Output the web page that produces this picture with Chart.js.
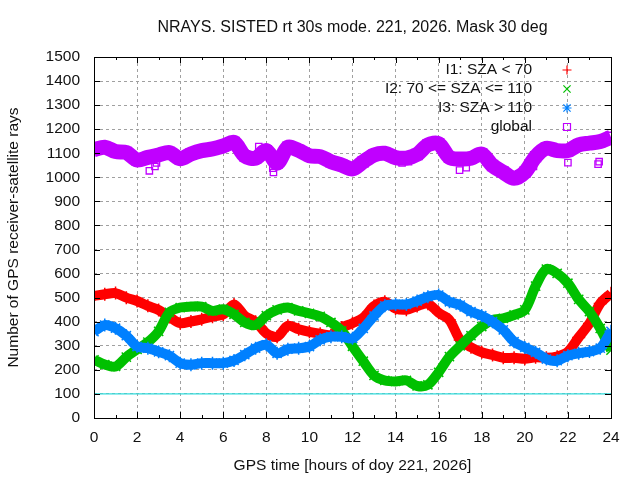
<!DOCTYPE html>
<html>
<head>
<meta charset="utf-8">
<script src="https://cdn.jsdelivr.net/npm/chart.js"></script>
<style>
html,body{margin:0;padding:0;background:#fff;}
#wrap{width:640px;height:480px;}
</style>
</head>
<body>
<div id="wrap"><canvas id="c" width="640" height="480"></canvas></div>
<script>
const chartTitle = "NRAYS. SISTED rt 30s mode. 221, 2026. Mask 30 deg";
const xTitle = "GPS time [hours of doy 221, 2026]";
const yTitle = "Number of GPS receiver-satellite rays";
const seriesLabels = ["I1: SZA < 70", "I2: 70 <= SZA <= 110", "I3: SZA > 110", "global"];

const hours = [0,0.5,1,1.5,2,2.5,3,3.5,4,4.5,5,5.5,6,6.5,7,7.5,8,8.5,9,9.5,10,10.5,11,11.5,12,
  12.5,13,13.5,14,14.5,15,15.5,16,16.5,17,17.5,18,18.5,19,19.5,20,20.5,21,21.5,22,22.5,23,23.5,24];

const i1 = [507,514,519,500,486,466,449,420,394,401,410,421,430,472,424,400,352,338,383,369,358,350,345,376,394,
  417,465,483,455,450,465,475,437,407,324,294,273,262,250,250,246,252,250,255,275,335,393,476,518];

const i2 = [242,222,214,253,285,315,360,439,459,463,463,445,452,431,397,386,425,449,459,445,435,422,397,362,298,
  236,177,156,152,156,133,138,190,255,300,342,380,407,414,428,449,548,619,601,560,493,442,372,282];

const i3 = [359,386,373,342,297,290,275,259,228,221,228,228,228,239,263,290,304,269,286,290,297,325,338,338,331,
  372,424,466,472,472,486,504,511,483,469,442,425,400,366,317,293,273,245,238,259,269,276,290,360];

const globalRays = [1115,1125,1107,1103,1072,1083,1093,1103,1077,1097,1111,1118,1130,1145,1089,1079,1111,1059,1125,1112,1090,1086,1065,1051,1035,
  1065,1093,1100,1082,1080,1095,1135,1140,1083,1076,1079,1097,1049,1021,996,1021,1086,1121,1111,1111,1135,1142,1149,1167];

const globalOutlierHours = [2.57,2.83,2.9,7.65,8.3,8.33,14.3,14.6,16.97,17.28,18.2,20.4,22.0,23.4,23.45];
const globalOutlierValues = [1027,1045,1060,1128,1038,1020,1060,1065,1030,1040,1065,1045,1061,1055,1065];

const refLevel = 100;
const xTicks = [0,2,4,6,8,10,12,14,16,18,20,22,24];
const yMin = 0, yMax = 1500, yStep = 100;

const colors = ["#ff0000", "#00c000", "#0080ff", "#c000ff"];
const pointStyles = ["cross", "crossRot", "star", "rect"];
const FONT = "Liberation Sans";
const FSIZE = 15.5;
const TEXT = "#111111";

function pts(xs, ys){ return xs.map((x,i)=>({x:x, y:ys[i]})); }

const seriesData = [i1, i2, i3, globalRays];
const datasets = seriesData.map((vals, k) => ({
  label: seriesLabels[k],
  data: pts(hours, vals),
  borderColor: colors[k],
  backgroundColor: "rgba(0,0,0,0)",
  borderWidth: k === 3 ? 15 : 10,
  pointStyle: pointStyles[k],
  pointRadius: k === 3 ? 7 : 6.5,
  pointBorderWidth: 1.5,
  pointBorderColor: colors[k],
  pointBackgroundColor: "rgba(0,0,0,0)",
  tension: 0.3,
  order: 4 - k,
  showLine: true
}));
datasets.push({
  label: "global outliers",
  data: pts(globalOutlierHours, globalOutlierValues),
  showLine: false,
  borderColor: colors[3],
  backgroundColor: "rgba(0,0,0,0)",
  pointStyle: "rect",
  pointRadius: 4.5,
  pointBorderWidth: 1.3,
  order: 0
});
datasets.push({
  label: "ref",
  data: [{x: hours[0], y: refLevel}, {x: hours[hours.length-1], y: refLevel}],
  borderColor: "#30dcdc",
  borderWidth: 1.3,
  pointRadius: 0,
  order: 10
});

const framePlugin = {
  id: "frame",
  afterDatasetsDraw(chart) {
    const {ctx, chartArea: a, scales: {x, y}} = chart;
    ctx.save();
    ctx.strokeStyle = "#000";
    ctx.lineWidth = 1;
    ctx.beginPath();
    for (let h = x.min; h <= x.max; h += 1) {
      const px = Math.round(x.getPixelForValue(h)) + 0.5;
      const len = (h % 2 === 0) ? 6 : 3;
      ctx.moveTo(px, a.bottom); ctx.lineTo(px, a.bottom - len);
      ctx.moveTo(px, a.top); ctx.lineTo(px, a.top + len);
    }
    for (let v = yMin; v <= yMax; v += yStep) {
      const py = Math.round(y.getPixelForValue(v)) + 0.5;
      ctx.moveTo(a.left, py); ctx.lineTo(a.left + 6, py);
      ctx.moveTo(a.right, py); ctx.lineTo(a.right - 6, py);
    }
    ctx.stroke();
    ctx.strokeRect(Math.round(a.left) + 0.5, Math.round(a.top) + 0.5,
      Math.round(a.right - a.left), Math.round(a.bottom - a.top));
    ctx.restore();
  },
  afterDraw(chart) {
    const {ctx, chartArea: a} = chart;
    ctx.save();
    ctx.fillStyle = TEXT;
    ctx.font = "16px '" + FONT + "'";
    ctx.textAlign = "center";
    ctx.textBaseline = "middle";
    ctx.fillText(chartTitle, (a.left + a.right) / 2, 28);
    // legend
    ctx.font = FSIZE + "px '" + FONT + "'";
    const textRight = 532, markX = 567, y0 = 70, dy = 19;
    ctx.textAlign = "right";
    for (let k = 0; k < seriesLabels.length; k++) {
      const yy = y0 + k * dy;
      ctx.fillStyle = TEXT;
      ctx.fillText(seriesLabels[k], textRight, yy);
      ctx.strokeStyle = colors[k];
      ctx.lineWidth = 1.2;
      ctx.beginPath();
      const r = 4.5;
      if (pointStyles[k] === "cross" || pointStyles[k] === "star") {
        ctx.moveTo(markX - r, yy); ctx.lineTo(markX + r, yy);
        ctx.moveTo(markX, yy - r); ctx.lineTo(markX, yy + r);
      }
      if (pointStyles[k] === "crossRot" || pointStyles[k] === "star") {
        const q = r * 0.8;
        ctx.moveTo(markX - q, yy - q); ctx.lineTo(markX + q, yy + q);
        ctx.moveTo(markX - q, yy + q); ctx.lineTo(markX + q, yy - q);
      }
      if (pointStyles[k] === "rect") {
        ctx.rect(markX - 3.5, yy - 3.5, 7, 7);
      }
      ctx.stroke();
    }
    ctx.restore();
  }
};

new Chart(document.getElementById("c"), {
  type: "line",
  data: { datasets: datasets },
  plugins: [framePlugin],
  options: {
    responsive: false,
    animation: false,
    devicePixelRatio: 1,
    layout: { padding: { top: 57, right: 29, left: 0, bottom: 0 } },
    plugins: { legend: { display: false }, tooltip: { enabled: false }, title: { display: false } },
    scales: {
      x: {
        type: "linear",
        min: hours[0], max: hours[hours.length - 1],
        afterBuildTicks(scale) { scale.ticks = xTicks.map(v => ({ value: v })); },
        afterFit(scale) { scale.height = 62; },
        ticks: { color: TEXT, font: { family: FONT, size: FSIZE }, padding: 10.5, maxRotation: 0, autoSkip: false,
          callback: (v) => String(v) },
        grid: { color: "#a0a0a0", lineWidth: 1, drawTicks: false },
        border: { display: false, dash: [3, 3] },
        title: { display: true, text: xTitle, color: TEXT, font: { family: FONT, size: FSIZE }, padding: { top: 0, bottom: 4.7 } }
      },
      y: {
        type: "linear",
        min: yMin, max: yMax,
        ticks: { stepSize: yStep, color: TEXT, font: { family: FONT, size: FSIZE }, padding: 14,
          callback: (v) => String(v) },
        afterFit(scale) { scale.width = 94; },
        grid: { color: "#a0a0a0", lineWidth: 1, drawTicks: false },
        border: { display: false, dash: [3, 3] },
        title: { display: true, text: yTitle, color: TEXT, font: { family: FONT, size: FSIZE }, padding: { top: 4.7, bottom: 0 } }
      }
    }
  }
});
</script>
</body>
</html>
